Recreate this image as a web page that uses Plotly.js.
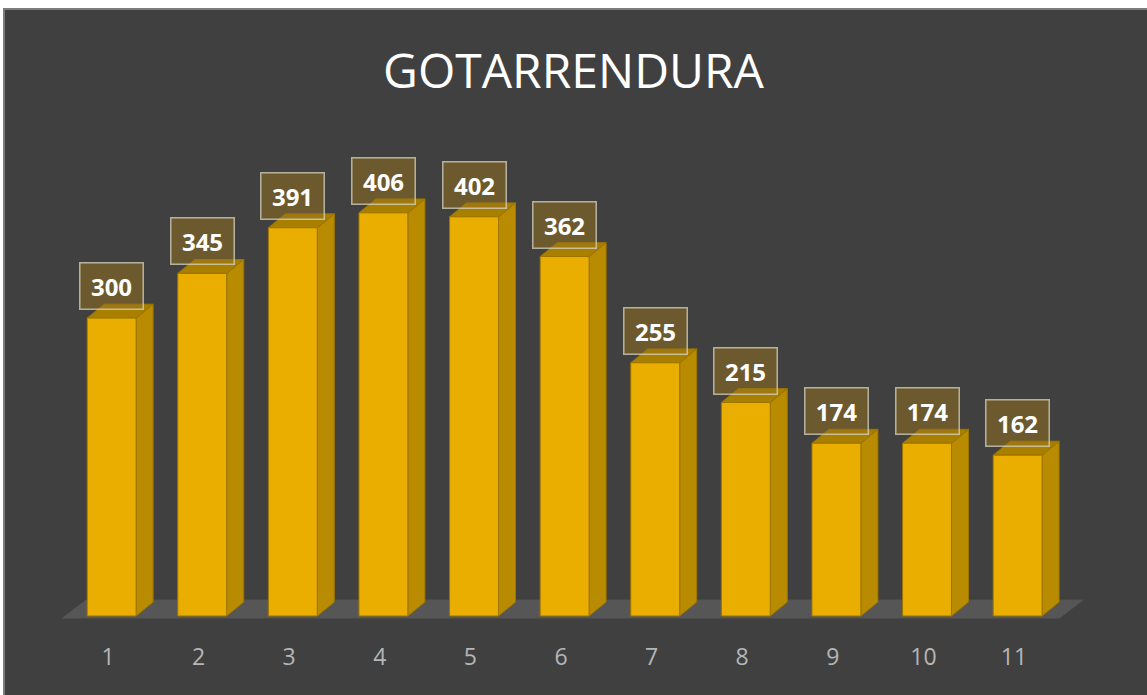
<!DOCTYPE html>
<html>
<head>
<meta charset="utf-8">
<script src="https://cdn.plot.ly/plotly-3.0.1.min.js"></script>
<style>
  html, body { margin:0; padding:0; background:#404040; overflow:hidden; }
  #topstrip { position:absolute; left:0; top:0; width:100%; height:8px; background:#ffffff; }
  #leftstrip { position:absolute; left:0; top:0; width:3px; height:100%; background:#ffffff; }
  #topline { position:absolute; left:3px; top:8px; width:100%; height:2px; background:#7d7d7d; }
  #leftline { position:absolute; left:3px; top:8px; width:2px; height:100%; background:#7d7d7d; }
  #chart { position:absolute; left:0; top:0; width:1147px; height:695px; }
</style>
</head>
<body>
<div id="topstrip"></div><div id="leftstrip"></div><div id="topline"></div><div id="leftline"></div>
<div id="chart"></div>
<script>
// ---- data ----
const chartTitle = 'GOTARRENDURA';
const categories = ['1','2','3','4','5','6','7','8','9','10','11'];
const values = [300, 345, 391, 406, 402, 362, 255, 215, 174, 174, 162];

// ---- style constants ----
const BAR_W = 0.54;   // front face width (category units)
const OFF = 0.04;     // front face shift from tick
const DX = 0.188;     // depth in x (category units)
const DY = 14;        // depth in y (value units)
const FRONT = '#E9AE00', SIDE = '#B98B00', TOP = '#A97F00', EDGE = '#9C7500';

const n = categories.length;
const idx = categories.map((c, i) => i);

function poly(list) {
  const xs = [], ys = [];
  list.forEach(p => { p.forEach(q => { xs.push(q[0]); ys.push(q[1]); }); xs.push(p[0][0]); ys.push(p[0][1]); xs.push(null); ys.push(null); });
  return {xs, ys};
}

const fronts = [], sides = [], tops = [];
idx.forEach(i => {
  const v = values[i];
  const xl = i + OFF - BAR_W / 2, xr = xl + BAR_W;
  fronts.push([[xl, 0], [xr, 0], [xr, v], [xl, v]]);
  sides.push([[xr, 0], [xr + DX, DY], [xr + DX, v + DY], [xr, v]]);
  tops.push([[xl, v], [xl + DX, v + DY], [xr + DX, v + DY], [xr, v]]);
});
const FDX = 0.26, FDY = 18;
const floor = [[[-0.5, -2], [n - 0.5, -2], [n - 0.5 + FDX, FDY - 2], [-0.5 + FDX, FDY - 2]]];

function faceTrace(list, fill, edge) {
  const p = poly(list);
  return {type:'scatter', mode:'lines', x:p.xs, y:p.ys, fill:'toself', fillcolor:fill,
          line:{color:edge, width:1}, hoverinfo:'skip', showlegend:false};
}

const traces = [
  faceTrace(floor, '#565656', '#565656'),
  faceTrace(sides, SIDE, EDGE),
  faceTrace(tops, TOP, EDGE),
  faceTrace(fronts, FRONT, EDGE)
];

const annotations = idx.map(i => ({
  x: i + OFF, y: values[i], xref:'x', yref:'y', text: String(values[i]),
  showarrow:false, yshift: 32, yanchor:'middle', xanchor:'center',
  width: 60, height: 43, borderpad: 1,
  bgcolor:'rgba(150,115,30,0.52)', bordercolor:'rgba(215,212,195,0.75)', borderwidth:1.5,
  font:{family:'Open Sans, sans-serif', size:24, color:'#ffffff', weight:'bold'}
}));

const PXU = 90.6, X0 = 108;        // px per category, px of first tick
const YPX = 0.993, YBASE = 616;    // px per value unit, px of zero
const MB = 60, H = 695, W = 1147;
const layout = {
  width: W, height: H,
  margin:{l:0, r:0, t:0, b:MB},
  paper_bgcolor:'rgba(0,0,0,0)', plot_bgcolor:'rgba(0,0,0,0)',
  title:{text: chartTitle, x:0.5, xanchor:'center', y: 1 - 71 / H, yanchor:'middle', yref:'container',
         font:{family:'Open Sans, sans-serif', size:48, color:'#ffffff'}},
  xaxis:{range:[-X0 / PXU, (W - X0) / PXU], tickvals: idx, ticktext: categories,
         showgrid:false, zeroline:false, showline:false, ticks:'', automargin:false,
         ticklabelstandoff: 6,
         tickfont:{family:'Open Sans, sans-serif', size:23, color:'#b4b6b8'}, fixedrange:true},
  yaxis:{range:[-(H - MB - YBASE) / YPX, YBASE / YPX], visible:false, fixedrange:true, automargin:false},
  annotations: annotations,
  showlegend:false
};

Plotly.newPlot('chart', traces, layout, {staticPlot:true, displayModeBar:false});
</script>
</body>
</html>
